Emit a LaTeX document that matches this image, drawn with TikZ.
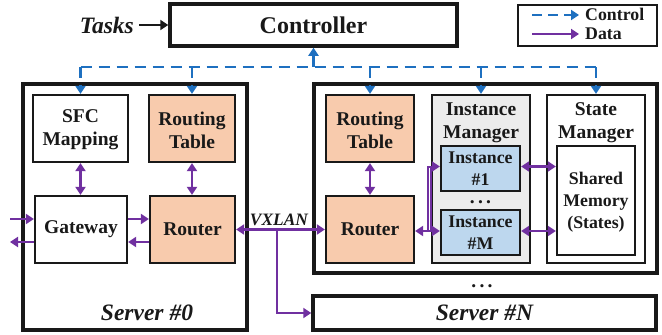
\documentclass[tikz,border=0pt]{standalone}
\usepackage{fontspec}
\setmainfont{Liberation Serif}
\usetikzlibrary{arrows.meta}
\definecolor{ctrlblue}{RGB}{30,112,192}
\definecolor{datapurple}{RGB}{112,48,160}
\definecolor{peach}{RGB}{248,203,173}
\definecolor{lblue}{RGB}{189,215,238}
\definecolor{lgray}{RGB}{236,236,236}
\definecolor{ink}{RGB}{25,25,25}
\newcommand\fMain{\bfseries\fontsize{19.5}{23}\selectfont}
\newcommand\fSmall{\bfseries\fontsize{17.8}{22}\selectfont}
\newcommand\fBig{\bfseries\fontsize{24}{28}\selectfont}
\newcommand\fItal{\bfseries\itshape\fontsize{23.5}{28}\selectfont}
\begin{document}
\begin{tikzpicture}[x=1pt,y=-1pt,
  box/.style={draw=ink, line width=2.3pt, inner sep=0pt, align=center, font=\fMain, text=ink},
  outerbox/.style={draw=ink, line width=3.5pt, inner sep=0pt},
  lbl/.style={inner sep=0pt, align=center, text=ink},
  ctrl/.style={draw=ctrlblue, line width=2.6pt, dash pattern=on 11pt off 7pt},
  data/.style={draw=datapurple, line width=2.8pt},
  >={Triangle[length=8pt,width=10pt]}]
\useasboundingbox (0,0) rectangle (662,335);

% controller, tasks, legend
\node[outerbox, minimum width=287, minimum height=42, font=\fBig, text=ink] (ctrl) at (313.5,25) {Controller};
\node[lbl, font=\fItal, anchor=east] (tasks) at (134,25) {Tasks};
\draw[ink, line width=2.4pt, ->] (tasks.east) ++(5,0) coordinate (tstart) (tstart) -- (tstart -| ctrl.west);

\node[draw=ink, line width=2.4pt, minimum width=139, minimum height=41] (legend) at (587.5,25.5) {};
\coordinate (lc1) at (532,15); \coordinate (lc2) at (579,15);
\coordinate (ld1) at (532,34); \coordinate (ld2) at (579,34);
\draw[ctrl, dash pattern=on 10pt off 6pt, ->] (lc1) -- (lc2);
\draw[data, ->] (ld1) -- (ld2);
\node[lbl, font=\fSmall, anchor=west] (lct) at (585,14) {Control};
\node[lbl, font=\fSmall, anchor=west] (ldt) at (585,34) {Data};

% server 0
\node[outerbox, minimum width=224, minimum height=246] (s0) at (135,207) {};
\node[box, minimum width=95, minimum height=67] (sfc) at (80.5,128.5) {};
\node[lbl, font=\fMain] at (80.5,130) {SFC\\Mapping};
\node[box, fill=peach, minimum width=86, minimum height=67] (rt0) at (192,128.5) {};
\node[lbl, font=\fMain] at (192,130) {Routing\\Table};
\node[box, minimum width=92, minimum height=67] (gw) at (81,229.5) {Gateway};
\node[box, fill=peach, minimum width=85, minimum height=67] (r0) at (192.5,229.5) {Router};
\node[lbl, font=\fItal] (s0t) at (147,313) {Server \#0};

% server 1
\node[outerbox, minimum width=343, minimum height=189] (s1) at (485.5,178.5) {};
\node[box, fill=peach, minimum width=88, minimum height=67] (rt1) at (370,128.5) {};
\node[lbl, font=\fMain] at (370,130) {Routing\\Table};
\node[box, fill=peach, minimum width=88, minimum height=67] (r1) at (370,229.5) {Router};
\node[box, fill=lgray, minimum width=98, minimum height=168] (im) at (481,179) {};
\node[lbl, font=\fMain, anchor=north] (imt) at (481,102.5) {Instance\\Manager};
\node[box, fill=lblue, minimum width=79, minimum height=45, font=\fSmall] (i1) at (480.5,168.5) {Instance\\\#1};
\node[box, fill=lblue, minimum width=79, minimum height=45, font=\fSmall] (im2) at (480.5,232.5) {Instance\\\#M};
\node[lbl, font=\fMain, anchor=base] (dots1) at (480.5,203) {.\,.\,.};
\node[box, minimum width=98, minimum height=168] (sm) at (596,179) {};
\node[lbl, font=\fMain, anchor=north] (smt) at (596,102.5) {State\\Manager};
\node[box, minimum width=78, minimum height=109] (shm) at (596,200.5) {};
\node[lbl, font=\fSmall] at (596,202) {Shared\\Memory\\(States)};

% server N
\node[lbl, font=\fMain, anchor=base] (dots2) at (482,287) {.\,.\,.};
\node[outerbox, minimum width=343, minimum height=34, font=\fItal, text=ink] (sN) at (484.5,313) {Server \#N};

% control bus
\coordinate (busL) at (80.5,67);
\coordinate (busR) at (596,67);
\draw[ctrl] (busL) -- (busR);
\draw[ctrl, ->] (ctrl.south |- busL) -- (ctrl.south);
\draw[ctrl, ->] (busL) -- (sfc.north);
\draw[ctrl, ->] (rt0.north |- busL) -- (rt0.north);
\draw[ctrl, ->] (rt1.north |- busL) -- (rt1.north);
\draw[ctrl, ->] (im.north |- busL) -- (im.north);
\draw[ctrl, ->] (busR) -- (sm.north);

% data in server 0
\draw[data, <->] (sfc.south) -- (sfc.south |- gw.north);
\draw[data, <->] (rt0.south) -- (rt0.south |- r0.north);
\coordinate (gin) at (10,219);
\coordinate (gout) at (10,242);
\draw[data, ->] (gin) -- (gin -| gw.west);
\draw[data, ->] (gout -| gw.west) -- (gout);
\draw[data, ->] (gw.east |- gin) -- (r0.west |- gin);
\draw[data, ->] (r0.west |- gout) -- (gw.east |- gout);

% VXLAN
\draw[data, <->] (r0.east) -- (r1.west);
\node[lbl, font=\bfseries\itshape\fontsize{17.4}{20}\selectfont, anchor=base] (vx) at (279,225) {VXLAN};
\coordinate (br) at (277,229.5);
\draw[data, ->] (br) |- (sN.west);

% data in server 1
\draw[data, <->] (rt1.south) -- (rt1.south |- r1.north);
\coordinate (ry) at (0,231);
\coordinate (iy1) at (0,166.5);
\draw[data, <->] (r1.east |- ry) -- (im2.west |- ry);
\coordinate (v1) at (427.5,231);
\coordinate (v2) at (431,231);
\draw[datapurple, line width=2pt, ->] (v1) |- (i1.west |- iy1);
\draw[datapurple, line width=2pt] (v2) -- (v2 |- iy1);
\draw[data, <->] (i1.east |- iy1) -- (shm.west |- iy1);
\draw[data, <->] (im2.east |- ry) -- (shm.west |- ry);
\end{tikzpicture}
\end{document}
